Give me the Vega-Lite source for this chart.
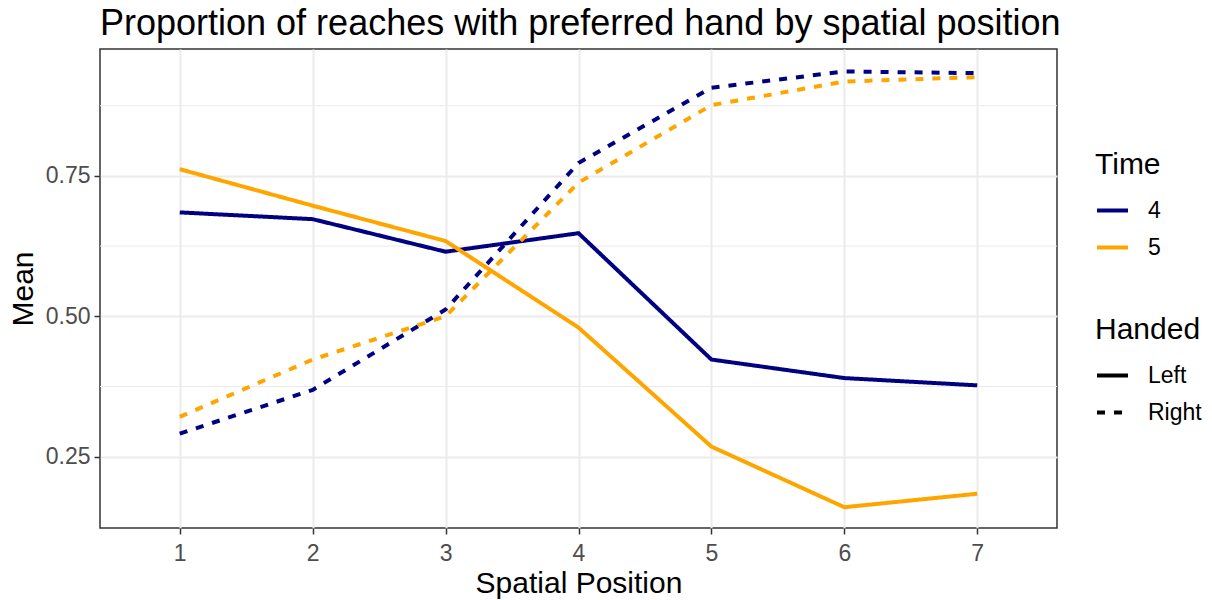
{
  "$schema": "https://vega.github.io/schema/vega-lite/v6.json",
  "width": 957,
  "height": 479,
  "autosize": {"type": "none"},
  "padding": {"left": 100, "top": 49, "right": 155, "bottom": 72},
  "background": "white",
  "title": {
    "text": "Proportion of reaches with preferred hand by spatial position",
    "anchor": "start",
    "frame": "group",
    "font": "Liberation Sans",
    "fontSize": 36,
    "fontWeight": "normal",
    "color": "black",
    "offset": 6
  },
  "config": {
    "font": "Liberation Sans",
    "view": {"stroke": "#333333", "strokeWidth": 1.5},
    "axis": {
      "domain": false,
      "grid": true,
      "gridColor": "#EBEBEB",
      "gridWidth": 2,
      "tickColor": "#333333",
      "tickSize": 6,
      "tickWidth": 1.5,
      "labelFont": "Liberation Sans",
      "labelFontSize": 23,
      "labelColor": "#4D4D4D",
      "titleFont": "Liberation Sans",
      "titleFontSize": 30,
      "titleFontWeight": "normal",
      "titleColor": "black"
    },
    "legend": {
      "orient": "none",
      "titleFont": "Liberation Sans",
      "titleFontSize": 30,
      "titleFontWeight": "normal",
      "titleColor": "black",
      "labelFont": "Liberation Sans",
      "labelFontSize": 23,
      "labelColor": "black",
      "symbolType": "stroke",
      "symbolSize": 961,
      "symbolStrokeWidth": 4,
      "labelOffset": 18,
      "rowPadding": 7,
      "titlePadding": 13,
      "padding": 0
    }
  },
  "datasets": {
    "main": [
      {"pos": 1, "mean": 0.685, "Time": "4", "Handed": "Left"},
      {"pos": 2, "mean": 0.673, "Time": "4", "Handed": "Left"},
      {"pos": 3, "mean": 0.615, "Time": "4", "Handed": "Left"},
      {"pos": 4, "mean": 0.648, "Time": "4", "Handed": "Left"},
      {"pos": 5, "mean": 0.423, "Time": "4", "Handed": "Left"},
      {"pos": 6, "mean": 0.390, "Time": "4", "Handed": "Left"},
      {"pos": 7, "mean": 0.377, "Time": "4", "Handed": "Left"},
      {"pos": 1, "mean": 0.291, "Time": "4", "Handed": "Right"},
      {"pos": 2, "mean": 0.369, "Time": "4", "Handed": "Right"},
      {"pos": 3, "mean": 0.512, "Time": "4", "Handed": "Right"},
      {"pos": 4, "mean": 0.773, "Time": "4", "Handed": "Right"},
      {"pos": 5, "mean": 0.907, "Time": "4", "Handed": "Right"},
      {"pos": 6, "mean": 0.936, "Time": "4", "Handed": "Right"},
      {"pos": 7, "mean": 0.933, "Time": "4", "Handed": "Right"},
      {"pos": 1, "mean": 0.762, "Time": "5", "Handed": "Left"},
      {"pos": 2, "mean": 0.697, "Time": "5", "Handed": "Left"},
      {"pos": 3, "mean": 0.634, "Time": "5", "Handed": "Left"},
      {"pos": 4, "mean": 0.480, "Time": "5", "Handed": "Left"},
      {"pos": 5, "mean": 0.268, "Time": "5", "Handed": "Left"},
      {"pos": 6, "mean": 0.160, "Time": "5", "Handed": "Left"},
      {"pos": 7, "mean": 0.184, "Time": "5", "Handed": "Left"},
      {"pos": 1, "mean": 0.321, "Time": "5", "Handed": "Right"},
      {"pos": 2, "mean": 0.423, "Time": "5", "Handed": "Right"},
      {"pos": 3, "mean": 0.500, "Time": "5", "Handed": "Right"},
      {"pos": 4, "mean": 0.738, "Time": "5", "Handed": "Right"},
      {"pos": 5, "mean": 0.876, "Time": "5", "Handed": "Right"},
      {"pos": 6, "mean": 0.918, "Time": "5", "Handed": "Right"},
      {"pos": 7, "mean": 0.926, "Time": "5", "Handed": "Right"}
    ],
    "minor": [
      {"m": 0.375},
      {"m": 0.625},
      {"m": 0.875}
    ]
  },
  "layer": [
    {
      "data": {"name": "minor"},
      "mark": {"type": "rule", "color": "#EBEBEB", "strokeWidth": 1},
      "encoding": {
        "y": {
          "field": "m",
          "type": "quantitative",
          "title": "Mean",
          "scale": {"domain": [0.123, 0.976], "nice": false, "zero": false},
          "axis": {"values": [0.25, 0.5, 0.75], "format": ".2f", "labelPadding": 4, "titlePadding": 7}
        }
      }
    },
    {
      "data": {"name": "main"},
      "mark": {"type": "line", "strokeWidth": 4},
      "encoding": {
        "x": {
          "field": "pos",
          "type": "quantitative",
          "title": "Spatial Position",
          "scale": {"domain": [0.4, 7.6], "nice": false, "zero": false},
          "axis": {"values": [1, 2, 3, 4, 5, 6, 7], "format": "d", "labelPadding": 8, "titlePadding": 3, "labelFlush": false}
        },
        "y": {
          "field": "mean",
          "type": "quantitative",
          "title": "Mean",
          "scale": {"domain": [0.123, 0.976], "nice": false, "zero": false},
          "axis": {"values": [0.25, 0.5, 0.75], "format": ".2f", "labelPadding": 4, "titlePadding": 7}
        },
        "color": {
          "field": "Time",
          "type": "nominal",
          "scale": {"domain": ["4", "5"], "range": ["#000080", "#FFA500"]},
          "legend": {"legendX": 995, "legendY": 101}
        },
        "strokeDash": {
          "field": "Handed",
          "type": "nominal",
          "scale": {"domain": ["Left", "Right"], "range": [[1, 0], [8, 9]]},
          "legend": {"legendX": 995, "legendY": 266, "symbolStrokeColor": "black"}
        },
        "detail": {"field": "Handed"}
      }
    }
  ]
}
